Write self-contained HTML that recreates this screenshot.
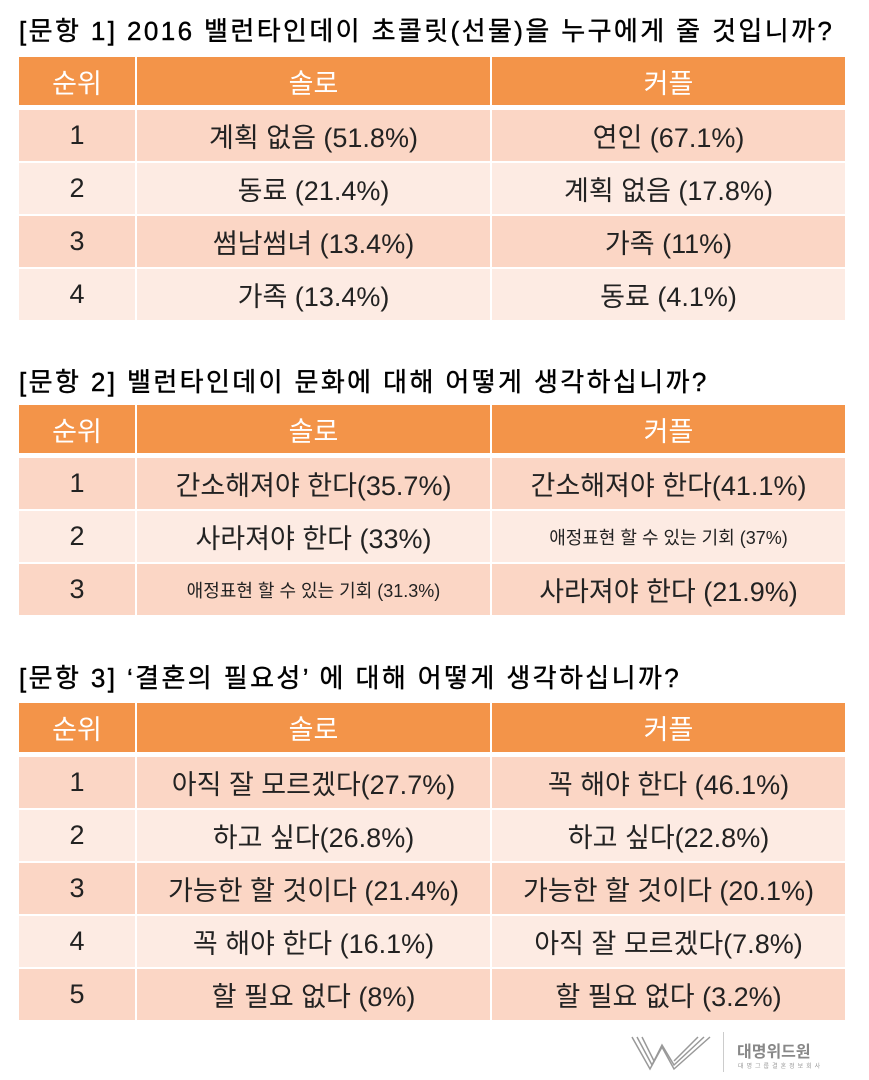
<!DOCTYPE html>
<html><head><meta charset="utf-8"><style>
body{margin:0;width:869px;height:1080px;background:#fff;position:relative;overflow:hidden;font-family:"Liberation Sans","Noto Sans CJK KR",sans-serif;color:#111}
.t{position:absolute;left:19px;font-size:26px;font-weight:normal;white-space:nowrap;letter-spacing:2.4px;color:#000;-webkit-text-stroke:0.4px #000}
.c{position:absolute;display:flex;align-items:center;justify-content:center;font-size:27px;white-space:nowrap;color:#222}
.h{background:#f39449;color:#fff;font-size:27px}
.o{background:#fbd6c5}
.e{background:#fdebe3}
.s{font-size:18px}
</style></head><body>
<div class="t" style="top:11px">[문항 1] 2016 밸런타인데이 초콜릿(선물)을 누구에게 줄 것입니까?</div>
<div class="t" style="top:362px">[문항 2] 밸런타인데이 문화에 대해 어떻게 생각하십니까?</div>
<div class="t" style="top:658px">[문항 3] ‘결혼의 필요성’ 에 대해 어떻게 생각하십니까?</div>
<script>
const X=[[19,116],[137,353],[492,353]];
function row(y,h,cls,cells){cells.forEach((t,i)=>{const d=document.createElement('div');d.className='c '+cls+(t.startsWith('~')?' s':'');d.textContent=t.replace('~','');d.style.cssText=`left:${X[i][0]}px;width:${X[i][1]}px;top:${y}px;height:${h}px`;document.body.appendChild(d);});}
row(57,48,'h',['순위','솔로','커플']);
[[110,['1','계획 없음 (51.8%)','연인 (67.1%)']],[163,['2','동료 (21.4%)','계획 없음 (17.8%)']],[216,['3','썸남썸녀 (13.4%)','가족 (11%)']],[269,['4','가족 (13.4%)','동료 (4.1%)']]].forEach((r,i)=>row(r[0],51,i%2?'e':'o',r[1]));
row(405,48,'h',['순위','솔로','커플']);
[[458,['1','간소해져야 한다(35.7%)','간소해져야 한다(41.1%)']],[511,['2','사라져야 한다 (33%)','~애정표현 할 수 있는 기회 (37%)']],[564,['3','~애정표현 할 수 있는 기회 (31.3%)','사라져야 한다 (21.9%)']]].forEach((r,i)=>row(r[0],51,i%2?'e':'o',r[1]));
row(703,49,'h',['순위','솔로','커플']);
[[757,['1','아직 잘 모르겠다(27.7%)','꼭 해야 한다 (46.1%)']],[810,['2','하고 싶다(26.8%)','하고 싶다(22.8%)']],[863,['3','가능한 할 것이다 (21.4%)','가능한 할 것이다 (20.1%)']],[916,['4','꼭 해야 한다 (16.1%)','아직 잘 모르겠다(7.8%)']],[969,['5','할 필요 없다 (8%)','할 필요 없다 (3.2%)']]].forEach((r,i)=>row(r[0],51,i%2?'e':'o',r[1]));
</script>
<svg style="position:absolute;left:630px;top:1033px" width="85" height="40" viewBox="0 0 85 40">
<g fill="none" stroke="#999" stroke-width="1.5">
<path d="M2 4 L20 36 L32 14 L44 36 L80 4"/><path d="M7 4 L22 32 L32 12 L44 32 L74 4"/><path d="M12 4 L24 28"/><path d="M44 28 L68 4"/></g></svg>
<div style="position:absolute;left:723px;top:1032px;width:1px;height:40px;background:#ccc"></div>
<div style="position:absolute;left:737px;top:1038px;font-size:16px;font-weight:bold;color:#888">대명위드원</div>
<div style="position:absolute;left:738px;top:1061px;font-size:6px;color:#999;letter-spacing:3px">대명그룹결혼정보회사</div>
</body></html>
